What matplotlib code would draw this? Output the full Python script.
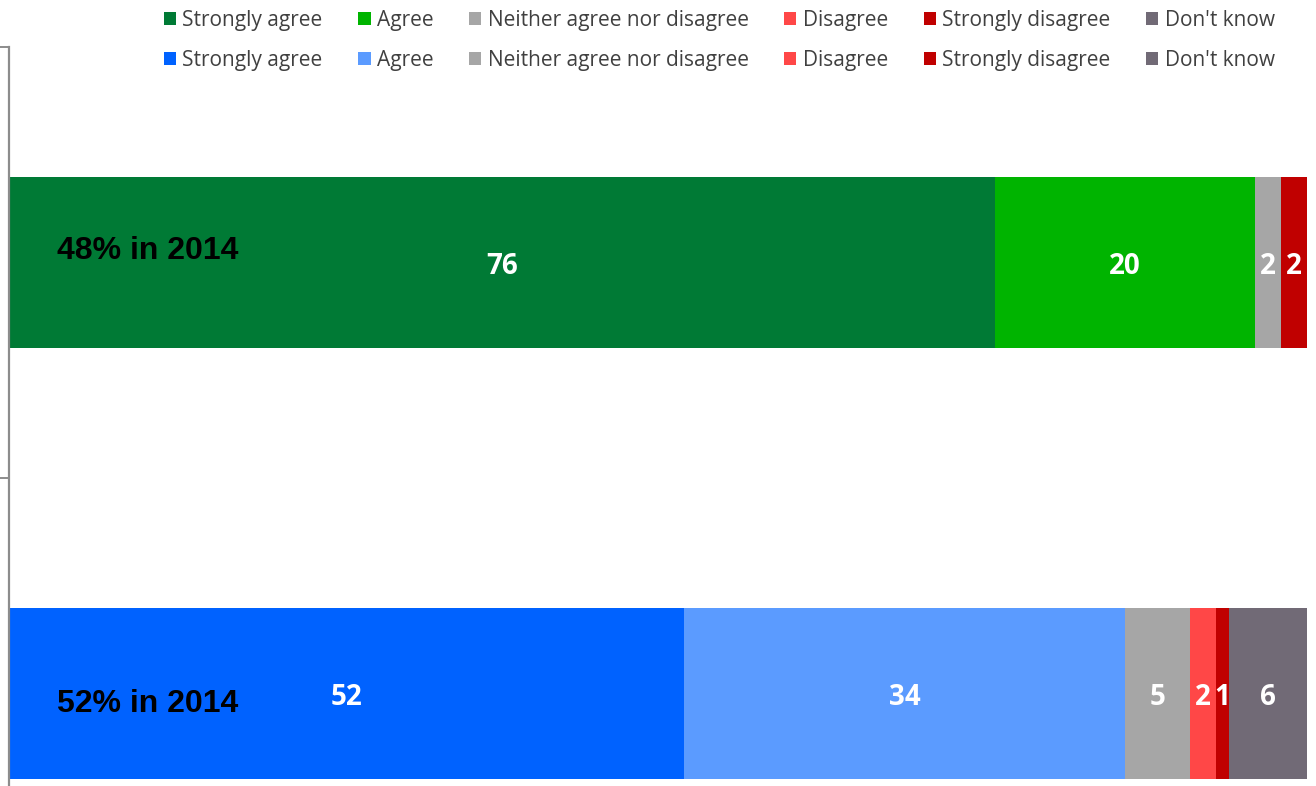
import matplotlib
matplotlib.use("Agg")
import matplotlib.pyplot as plt
from matplotlib.patches import Patch

responses = ["Strongly agree", "Agree", "Neither agree nor disagree",
             "Disagree", "Strongly disagree", "Don't know"]
green_values = [76, 20, 2, 0, 2, 0]
blue_values = [52, 34, 5, 2, 1, 6]
green_colors = ["#007A35", "#00B400", "#A6A6A6", "#FF4747", "#C00000", "#716A76"]
blue_colors = ["#0062FF", "#5B9BFF", "#A6A6A6", "#FF4747", "#C00000", "#716A76"]
notes = ["48% in 2014", "52% in 2014"]

W, H = 1316, 786
fig = plt.figure(figsize=(W / 100, H / 100), dpi=100)
ax = fig.add_axes([9 / W, 0, (1307 - 9) / W, 1 - 47 / H])

rows = [(1, green_values, green_colors, notes[0], 0.009),
        (0, blue_values, blue_colors, notes[1], -0.042)]
bar_h = 0.397
for ypos, vals, cols, note, note_dy in rows:
    left = 0
    for v, c in zip(vals, cols):
        if v > 0:
            ax.barh(ypos, v, left=left, height=bar_h, color=c, edgecolor="none")
            ax.text(left + v / 2, ypos - 0.027, f"{v}", ha="center",
                    va="baseline", color="white", fontsize=20,
                    fontweight="bold", family="Open Sans")
        left += v
    ax.text(3.7, ypos + note_dy, note, ha="left", va="baseline", color="black",
            fontsize=23, fontweight="bold", family="Liberation Sans")

ax.set_xlim(0, 100)
ax.set_ylim(-0.2146, 1.5)
for s in ["top", "right", "bottom"]:
    ax.spines[s].set_visible(False)
ax.spines["left"].set_color("#8C8C8C")
ax.spines["left"].set_linewidth(1.6)
ax.set_xticks([])
ax.set_yticks([0.5, 1.5])
ax.set_yticklabels([])
ax.tick_params(axis="y", direction="out", length=6.5, width=1.4, color="#8C8C8C")

handles = []
for gc, bc, r in zip(green_colors, blue_colors, responses):
    handles.append(Patch(facecolor=gc, label=r))
    handles.append(Patch(facecolor=bc, label=r))
fig.legend(handles=handles, ncol=6, loc="upper left",
           bbox_to_anchor=(164 / W, 1 - 10 / H), frameon=False,
           prop={"family": "Open Sans", "size": 15}, labelcolor="#404040",
           handlelength=0.58, handleheight=0.58, handletextpad=0.3,
           columnspacing=1.72, labelspacing=0.92, borderpad=0, borderaxespad=0)

fig.savefig("out.png", dpi=100)
